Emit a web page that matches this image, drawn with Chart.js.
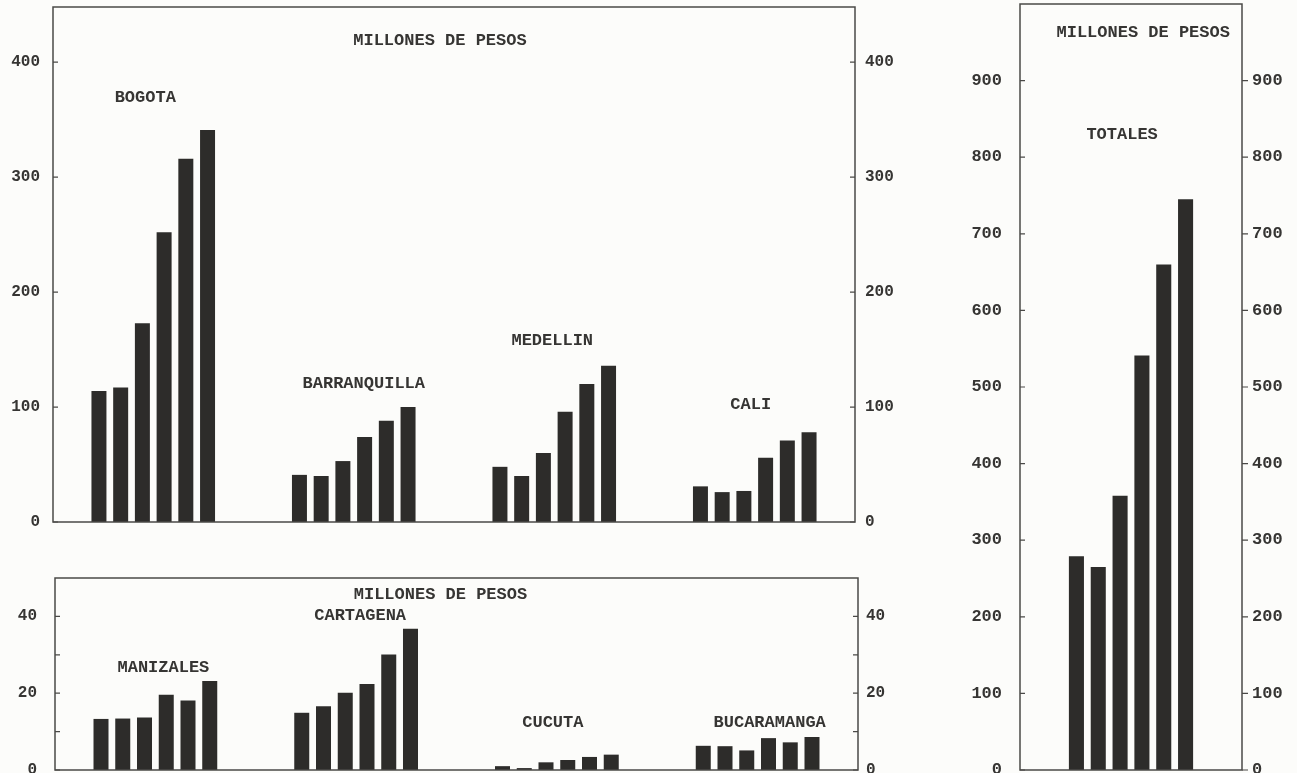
<!DOCTYPE html>
<html>
<head>
<meta charset="utf-8">
<title>Millones de pesos</title>
<script src="https://cdn.jsdelivr.net/npm/chart.js@4.4.0/dist/chart.umd.min.js"></script>
<style>
  html, body { margin: 0; padding: 0; background: #fcfcfa; }
  body { width: 1297px; height: 773px; position: relative; overflow: hidden; }
  .panel { position: absolute; }
  #top-box { left: 0; top: 0; width: 910px; height: 530px; }
  #bottom-box { left: 0; top: 570px; width: 910px; height: 203px; }
  #totals-box { left: 940px; top: 0; width: 357px; height: 773px; }
</style>
</head>
<body>
<div class="panel" id="top-box"><canvas id="top"></canvas></div>
<div class="panel" id="bottom-box"><canvas id="bottom"></canvas></div>
<div class="panel" id="totals-box"><canvas id="totals"></canvas></div>

<script>
// data (millones de pesos)
const periods = ['1', '2', '3', '4', '5', '6'];

const bigCities = ['BOGOTA', 'BARRANQUILLA', 'MEDELLIN', 'CALI'];
const bogota = [114, 117, 173, 252, 316, 341];
const barranquilla = [41, 40, 53, 74, 88, 100];
const medellin = [48, 40, 60, 96, 120, 136];
const cali = [31, 26, 27, 56, 71, 78];

const smallCities = ['MANIZALES', 'CARTAGENA', 'CUCUTA', 'BUCARAMANGA'];
const manizales = [13.3, 13.4, 13.7, 19.6, 18.1, 23.2];
const cartagena = [14.9, 16.6, 20.1, 22.4, 30.1, 36.8];
const cucuta = [1.0, 0.5, 2.0, 2.6, 3.4, 4.0];
const bucaramanga = [6.3, 6.2, 5.1, 8.3, 7.2, 8.6];

const totalLabel = ['TOTALES'];
const totales = [279, 265, 358, 541, 660, 745];

const topTicks = [0, 100, 200, 300, 400];
const bottomTicks = [0, 20, 40];
const bottomMarks = [0, 10, 20, 30, 40];
const totalTicks = [0, 100, 200, 300, 400, 500, 600, 700, 800, 900];

const unitTitle = 'MILLONES DE PESOS';

const ink = '#2d2c2a';
const textInk = '#363533';
const typeFont = "'Liberation Mono', 'DejaVu Sans Mono', monospace";

// one dataset per period, one category per city
function periodSets(series, catPct, barPct) {
    return periods.map((p, j) => ({
        label: p,
        data: series.map(s => s[j]),
        backgroundColor: ink,
        borderWidth: 0,
        categoryPercentage: catPct,
        barPercentage: barPct
    }));
}

// fixed axis width, and no extra room for half tick labels
function fixedWidth(w) {
    return scale => {
        scale.width = w;
        scale.paddingTop = 0;
        scale.paddingBottom = 0;
    };
}

function setTicks(list) {
    return scale => { scale.ticks = list.map(v => ({ value: v })); };
}

function yAxis(side, max, ticks, width, pad, size) {
    return {
        type: 'linear',
        position: side,
        min: 0,
        max: max,
        afterBuildTicks: setTicks(ticks),
        afterFit: fixedWidth(width),
        grid: { display: false, drawTicks: false },
        border: { display: false },
        ticks: {
            padding: pad,
            color: textInk,
            font: { family: typeFont, size: size, weight: 'bold' }
        }
    };
}

// box, tick marks and the typed captions
const paper = {
    id: 'paper',
    afterDraw(chart, args, opts) {
        const { ctx, chartArea: a, scales } = chart;
        ctx.save();
        ctx.strokeStyle = '#4a4947';
        ctx.lineWidth = 1.5;
        ctx.strokeRect(a.left, a.top, a.right - a.left, a.bottom - a.top);

        ctx.lineWidth = 1.2;
        opts.marks.forEach(v => {
            const y = scales.y.getPixelForValue(v);
            ctx.beginPath();
            ctx.moveTo(a.left, y);
            ctx.lineTo(a.left + opts.leftTick, y);
            ctx.moveTo(a.right, y);
            ctx.lineTo(a.right + opts.rightTick, y);
            ctx.stroke();
        });

        ctx.fillStyle = textInk;
        ctx.font = 'bold ' + opts.size + 'px ' + typeFont;
        ctx.textAlign = 'center';
        ctx.textBaseline = 'middle';
        opts.notes.forEach(n => {
            ctx.fillText(n.text, scales.x.getPixelForValue(n.at[0]), scales.y.getPixelForValue(n.at[1]));
        });
        ctx.restore();
    }
};

function baseOptions(padding, xAxis, yLeft, yRight, paperOpts) {
    return {
        responsive: true,
        maintainAspectRatio: false,
        animation: false,
        layout: { padding: padding },
        scales: { x: xAxis, y: yLeft, y2: yRight },
        plugins: {
            legend: { display: false },
            tooltip: { enabled: false },
            paper: paperOpts
        }
    };
}

const hiddenX = { type: 'category', display: false, grid: { display: false } };

// top panel: big cities
new Chart(document.querySelector('#top'), {
    type: 'bar',
    data: {
        labels: bigCities,
        datasets: periodSets([bogota, barranquilla, medellin, cali], 0.65, 0.69)
    },
    options: baseOptions(
        { top: 7, bottom: 8 },
        hiddenX,
        yAxis('left', 448, topTicks, 53, 13, 16),
        yAxis('right', 448, topTicks, 55, 10, 16),
        {
            marks: topTicks, leftTick: 5, rightTick: -5, size: 17,
            notes: [
                { text: unitTitle, at: [1.43, 419] },
                { text: 'BOGOTA', at: [-0.04, 369] },
                { text: 'BARRANQUILLA', at: [1.05, 120] },
                { text: 'MEDELLIN', at: [1.99, 158] },
                { text: 'CALI', at: [2.98, 102] }
            ]
        }
    ),
    plugins: [paper]
});

// bottom panel: smaller cities
new Chart(document.querySelector('#bottom'), {
    type: 'bar',
    data: {
        labels: smallCities,
        datasets: periodSets([manizales, cartagena, cucuta, bucaramanga], 0.65, 0.69)
    },
    options: baseOptions(
        { top: 8, bottom: 3 },
        hiddenX,
        yAxis('left', 50, bottomTicks, 55, 18, 16),
        yAxis('right', 50, bottomTicks, 52, 8, 16),
        {
            marks: bottomMarks, leftTick: 5, rightTick: -5, size: 17,
            notes: [
                { text: unitTitle, at: [1.42, 45.6] },
                { text: 'CARTAGENA', at: [1.02, 40.1] },
                { text: 'MANIZALES', at: [0.04, 26.6] },
                { text: 'CUCUTA', at: [1.98, 12.2] },
                { text: 'BUCARAMANGA', at: [3.06, 12.2] }
            ]
        }
    ),
    plugins: [paper]
});

// right panel: totals
new Chart(document.querySelector('#totals'), {
    type: 'bar',
    data: {
        labels: totalLabel,
        datasets: periodSets([totales], 0.59, 0.69)
    },
    options: baseOptions(
        { top: 4, bottom: 3 },
        hiddenX,
        yAxis('left', 1000, totalTicks, 80, 18, 17),
        yAxis('right', 1000, totalTicks, 55, 10, 17),
        {
            marks: totalTicks, leftTick: 5, rightTick: 6, size: 17,
            notes: [
                { text: unitTitle, at: [0.055, 963] },
                { text: 'TOTALES', at: [-0.04, 829] }
            ]
        }
    ),
    plugins: [paper]
});
</script>
</body>
</html>
